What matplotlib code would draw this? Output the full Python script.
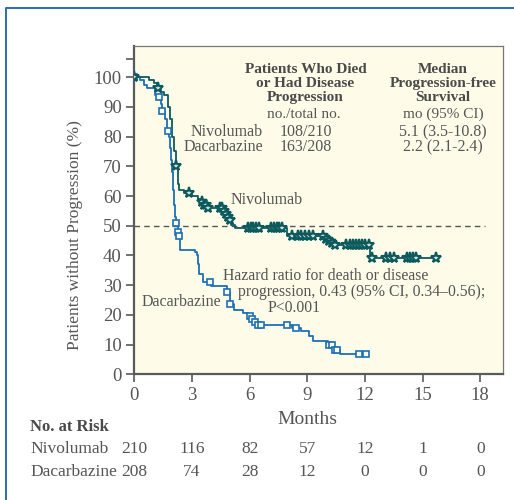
import numpy as np
import matplotlib
matplotlib.use("Agg")
import matplotlib.pyplot as plt
from matplotlib.lines import Line2D
import matplotlib.transforms as mtransforms

plt.rcParams['font.family'] = ['Liberation Serif', 'DejaVu Serif']

# ---------------- data ----------------
nivo_t = [0, 0.75, 1.0, 1.2, 1.35, 1.55, 1.75, 1.85, 1.95, 2.05, 2.15, 2.25, 2.35, 2.6,
          3.0, 3.3, 3.45, 3.6, 3.75, 4.65, 4.75, 4.85, 4.95, 5.05, 5.24, 7.96,
          9.9, 10.1, 10.25, 10.4, 12.26]
nivo_s = [100, 99, 98, 96.5, 95, 94, 90, 86, 80, 75, 70, 64, 62, 61,
          60, 59, 58, 57, 56, 55, 54, 53, 52, 50.2, 49.3, 46.5,
          45.5, 44.8, 44.2, 43.4, 39.3]
nivo_cens = [0, 1.24, 2.17, 2.86, 3.5, 3.62, 3.72, 3.82, 4.45, 4.55, 4.68, 4.78, 4.88, 4.97,
             5.9, 6.05, 6.2, 6.35, 6.5, 7.1, 7.25, 7.4, 7.55, 7.7,
             8.2, 8.5, 8.7, 8.9, 9.1, 9.3, 9.8, 9.95, 10.12, 10.27, 10.42,
             11.0, 11.2, 11.4, 11.55, 11.7, 11.85, 12.0, 12.2,
             12.35, 13.1, 13.3, 13.5, 14.2, 14.35, 14.5, 14.65, 15.7]
nivo_end = 15.7

dac_t = [0, 0.3, 0.5, 0.65, 1.15, 1.25, 1.4, 1.45, 1.6, 1.7, 1.8, 1.85, 1.9, 1.95, 2.0,
         2.05, 2.1, 2.15, 2.25, 2.33, 2.4, 3.15, 3.26, 3.32, 3.37, 3.55, 4.0, 4.8, 4.98,
         5.2, 5.65, 5.9, 6.1, 6.25, 6.4, 8.2, 8.7, 9.1, 9.3, 10.1, 10.3, 10.45, 10.7]
dac_s = [100, 99, 97.5, 96.5, 95, 93.5, 91, 88.5, 86, 82, 80, 76, 72, 68, 62,
         57, 53, 51, 48, 46.5, 42, 41, 40.3, 37, 33.6, 31, 29.6, 27.7, 23.5,
         21.7, 20.6, 19.5, 18.5, 17.5, 16.6, 15.6, 14.7, 12.8, 11.1, 10, 9, 8.2, 6.9]
dac_cens = [0, 1.22, 1.28, 1.46, 1.75, 2.17, 2.26, 2.34, 3.94, 4.84, 5.0,
            6.0, 6.12, 6.28, 6.42, 6.6, 7.93, 8.4, 10.12, 10.28, 10.46, 10.55, 11.7, 12.04]
dac_end = 12.04

risk_times = [0, 3, 6, 9, 12, 15, 18]
risk_nivo = [210, 116, 82, 57, 12, 1, 0]
risk_dac = [208, 74, 28, 12, 0, 0, 0]

NIVO_C = '#0d5a5e'
DAC_C = '#1b6fb6'
BG = '#fefce9'
TXT = '#555555'

W, H = 514, 500
fig = plt.figure(figsize=(W / 100, H / 100), dpi=100)
fig.patch.set_facecolor('white')

L, R, T, B = 134.3, 502.7, 45.7, 374.3
ax = fig.add_axes([L / W, 1 - B / H, (R - L) / W, (B - T) / H])
ax.set_facecolor(BG)
ax.set_xlim(0, 19.17)
ax.set_ylim(0, 110.6)


def step_value(t, times, surv):
    idx = np.searchsorted(times, t, side='right') - 1
    return np.asarray(surv)[idx]


def draw_curve(times, surv, end, cens, color, marker, ms, mew, mfc):
    xs = list(times) + [end]
    ys = list(surv) + [surv[-1]]
    ax.step(xs, ys, where='post', color=color, lw=1.3, zorder=3)
    cy = step_value(np.asarray(cens), np.asarray(times), surv)
    ax.plot(cens, cy, ls='none', marker=marker, ms=ms, mfc=mfc, mec=color, mew=mew, zorder=4)


draw_curve(dac_t, dac_s, dac_end, dac_cens, DAC_C, 's', 5, 1.2, BG)
draw_curve(nivo_t, nivo_s, nivo_end, nivo_cens, NIVO_C, '*', 8, 1.5, '#cfe0d8')

ax.plot([0, 18.26], [50, 50], ls=(0, (4, 3)), color='#555555', lw=1.0, zorder=2)

# axes styling
for s in ['top', 'right']:
    ax.spines[s].set_color('#777777')
    ax.spines[s].set_linewidth(0.9)
for s in ['left', 'bottom']:
    ax.spines[s].set_color('#5a5a5a')
    ax.spines[s].set_linewidth(1.6)

ax.set_xticks(risk_times)
ax.set_xticklabels([str(v) for v in risk_times])
ax.set_yticks(list(range(0, 101, 10)) + [106])
ax.set_yticklabels([str(v) for v in range(0, 101, 10)] + [''])
ax.tick_params(axis='both', direction='out', length=6, width=1.2, color='#5a5a5a',
               labelcolor=TXT, labelsize=13.5, pad=3)

fig.text(307 / W, 1 - 420 / H, 'Months', ha='center', va='center', fontsize=14, color=TXT)
fig.text(75 / W, 1 - 235 / H, 'Patients without Progression (%)', rotation=90,
         ha='center', va='center', fontsize=12.5, color=TXT)


def px2d(px, py):
    return (px - L) / ((480.3 - L) / 18), (374.5 - py) / 2.965


def dtext(px, py, s, **kw):
    x, y = px2d(px, py)
    ax.text(x, y, s, color=kw.pop('color', TXT), va='center', **kw)


HB = '#4a4a4a'
for py, s in [(70, 'Patients Who Died'), (84, 'or Had Disease'), (98, 'Progression')]:
    dtext(305.5, py, s, ha='center', fontsize=11, fontweight='bold', color=HB)
for py, s in [(70, 'Median'), (84, 'Progression-free'), (98, 'Survival')]:
    dtext(443, py, s, ha='center', fontsize=11, fontweight='bold', color=HB)
dtext(304, 115, 'no./total no.', ha='center', fontsize=11)
dtext(443, 115, 'mo (95% CI)', ha='center', fontsize=11)
dtext(263, 133, 'Nivolumab', ha='right', fontsize=11.5)
dtext(263, 148, 'Dacarbazine', ha='right', fontsize=11.5)
dtext(280, 133, '108/210', ha='left', fontsize=11.5)
dtext(280, 148, '163/208', ha='left', fontsize=11.5)
dtext(443, 133, '5.1 (3.5-10.8)', ha='center', fontsize=11.5)
dtext(443, 148, '2.2 (2.1-2.4)', ha='center', fontsize=11.5)

dtext(231, 201, 'Nivolumab', ha='left', fontsize=11.5)
dtext(142, 302, 'Dacarbazine', ha='left', fontsize=11.5)
dtext(223, 276, 'Hazard ratio for death or disease', ha='left', fontsize=11.3)
dtext(238, 292, 'progression, 0.43 (95% CI, 0.34\u20130.56);', ha='left', fontsize=11.3)
dtext(268, 308, 'P<0.001', ha='left', fontsize=11.3)

# number at risk table
fig.text(30 / W, 1 - 427 / H, 'No. at Risk', ha='left', va='center', fontsize=12,
         fontweight='bold', color=HB)
fig.text(30 / W, 1 - 449 / H, 'Nivolumab', ha='left', va='center', fontsize=12.5, color=TXT)
fig.text(30 / W, 1 - 472 / H, 'Dacarbazine', ha='left', va='center', fontsize=12.5, color=TXT)
trans = mtransforms.blended_transform_factory(ax.transData, fig.transFigure)
for t, a, b in zip(risk_times, risk_nivo, risk_dac):
    fig.text(t, 1 - 449 / H, str(a), transform=trans, ha='center', va='center',
             fontsize=12.5, color=TXT)
    fig.text(t, 1 - 472 / H, str(b), transform=trans, ha='center', va='center',
             fontsize=12.5, color=TXT)

# outer blue frame (partially visible)
fig.add_artist(Line2D([6 / W, 6 / W, 1.0], [0.0, 1 - 8 / H, 1 - 8 / H],
                      transform=fig.transFigure, color='#2b6cb3', lw=1.4))

fig.savefig('out.png', dpi=100, facecolor='white')
